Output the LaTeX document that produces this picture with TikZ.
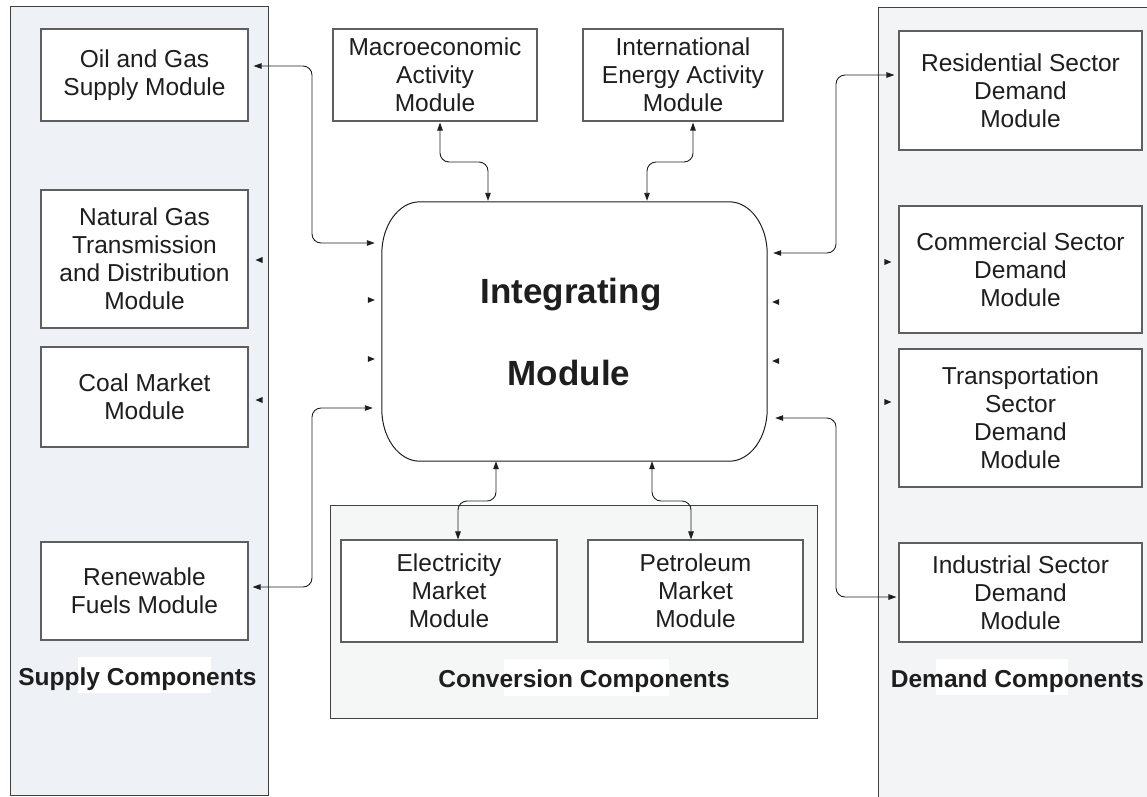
\documentclass[tikz,border=0pt]{standalone}
\usepackage{fontspec}
\setmainfont{Liberation Sans}
\usetikzlibrary{arrows.meta,calc}
\definecolor{panelL}{RGB}{238,242,246}
\definecolor{panelR}{RGB}{243,244,246}
\definecolor{panelC}{RGB}{245,247,247}
\definecolor{edge}{RGB}{95,95,95}
\definecolor{ink}{RGB}{30,30,30}
\begin{document}
\begin{tikzpicture}[x=1pt,y=-1pt,
  panel/.style={draw=ink!85, line width=0.9pt},
  module/.style={draw=edge, line width=1.1pt, fill=white, align=center,
    font=\fontsize{24.5}{28}\selectfont, text=ink, inner sep=0pt},
  grouplabel/.style={font=\bfseries\fontsize{24.5}{28}\selectfont, text=ink, anchor=base},
  biglabel/.style={font=\bfseries\fontsize{35}{40}\selectfont, text=ink, anchor=base},
  link/.style={draw=ink, line width=0.9pt, rounded corners=9pt,
    {Triangle[length=8pt,width=5.5pt]}-{Triangle[length=8pt,width=5.5pt]}},
  tipfill/.style={fill=ink}]

\useasboundingbox (0,0) rectangle (1147,796);

% panels
\path[panel, fill=panelL] (10,6) rectangle (268,795);
\path[panel, fill=panelR] (878,7) rectangle (1165,815);
\path[panel, fill=panelC] (330,505) rectangle (817,718);

% white patches behind group labels
\fill[white] (78,657) rectangle (211,693);
\fill[white] (504,659) rectangle (669,696);
\fill[white] (936,659) rectangle (1068,695);

% supply modules
\node[module, minimum width=207pt, minimum height=92pt] (oil) at (144.5,75) {Oil and Gas\\Supply Module};
\node[module, minimum width=207pt, minimum height=138pt] (natgas) at (144.5,259) {Natural Gas\\Transmission\\and Distribution\\Module};
\node[module, minimum width=207pt, minimum height=100pt] (coal) at (144.5,397) {Coal Market\\Module};
\node[module, minimum width=207pt, minimum height=98pt] (renew) at (144.5,591) {Renewable\\Fuels Module};

% demand modules
\node[module, minimum width=243pt, minimum height=119pt] (resid) at (1020.5,90.5) {Residential Sector\\Demand\\Module};
\node[module, minimum width=243pt, minimum height=127pt] (comm) at (1020.5,269.5) {Commercial Sector\\Demand\\Module};
\node[module, minimum width=243pt, minimum height=138pt] (transp) at (1020.5,418) {Transportation\\Sector\\Demand\\Module};
\node[module, minimum width=243pt, minimum height=99pt] (indust) at (1020.5,592.5) {Industrial Sector\\Demand\\Module};

% top modules
\node[module, minimum width=204pt, minimum height=92pt] (macro) at (435,75) {Macroeconomic\\Activity\\Module};
\node[module, minimum width=200pt, minimum height=92pt] (intl) at (683,75) {International\\Energy Activity\\Module};

% conversion modules
\node[module, minimum width=216pt, minimum height=102pt] (elec) at (449,591) {Electricity\\Market\\Module};
\node[module, minimum width=215pt, minimum height=102pt] (petro) at (695.5,591) {Petroleum\\Market\\Module};

% group labels
\node[grouplabel] (supplylbl) at (137.5,685) {Supply Components};
\node[grouplabel] (convlbl) at (584,687) {Conversion Components};
\node[grouplabel] (demandlbl) at (1017.5,687) {Demand Components};

% integrating module
\node[minimum width=385pt, minimum height=259pt, inner sep=0pt] (integ) at (574.5,331.5) {};
\draw[draw=ink, line width=1pt]
  ([xshift=38pt]integ.north west) -- ([xshift=-38pt]integ.north east)
  arc[start angle=90, end angle=0, x radius=38pt, y radius=52pt]
  -- ([yshift=52pt]integ.south east)
  arc[start angle=0, end angle=-90, x radius=38pt, y radius=52pt]
  -- ([xshift=38pt]integ.south west)
  arc[start angle=270, end angle=180, x radius=38pt, y radius=52pt]
  -- ([yshift=-52pt]integ.north west)
  arc[start angle=180, end angle=90, x radius=38pt, y radius=52pt]
  -- cycle;
\node[biglabel] (integt1) at (571,303) {Integrating};
\node[biglabel] (integt2) at (569,385) {Module};

% connector end points
\coordinate (laneL) at (312,0);
\coordinate (laneR) at (836,0);
\coordinate (laneT) at (0,162);
\coordinate (laneB) at (0,501);

\coordinate (oilE) at ([shift={(5,-9)}]oil.east);
\coordinate (integW1) at ([shift={(-7,-88.5)}]integ.west);
\coordinate (renewE) at ([shift={(4,-4)}]renew.east);
\coordinate (integW2) at ([shift={(-9,76.5)}]integ.west);

\coordinate (residW) at ([shift={(-4,-15.5)}]resid.west);
\coordinate (integE1) at ([shift={(6,-78.5)}]integ.east);
\coordinate (industW) at ([shift={(-2,4.5)}]indust.west);
\coordinate (integE2) at ([shift={(8,86.5)}]integ.east);

\coordinate (macroS) at ([shift={(5,1)}]macro.south);
\coordinate (integN1) at ([shift={(-86.5,-1)}]integ.north);
\coordinate (intlS) at ([shift={(10,1)}]intl.south);
\coordinate (integN2) at ([shift={(72.5,-1)}]integ.north);

\coordinate (integS1) at ([shift={(-78.5,0)}]integ.south);
\coordinate (elecN) at ([shift={(9,0)}]elec.north);
\coordinate (integS2) at ([shift={(77.5,0)}]integ.south);
\coordinate (petroN) at ([shift={(-4.5,0)}]petro.north);

% connectors
\draw[link] (oilE) -- (oilE -| laneL) |- (integW1);
\draw[link] (renewE) -- (renewE -| laneL) |- (integW2);
\draw[link] (integE1) -- (integE1 -| laneR) |- (residW);
\draw[link] (integE2) -- (integE2 -| laneR) |- (industW);
\draw[link] (macroS) -- (macroS |- laneT) -| (integN1);
\draw[link] (intlS) -- (intlS |- laneT) -| (integN2);
\draw[link] (integS1) -- (integS1 |- laneB) -| (elecN);
\draw[link] (integS2) -- (integS2 |- laneB) -| (petroN);

% lone arrow tips
\coordinate (s1) at ([shift={(7,1)}]natgas.east);
\coordinate (s2) at ([shift={(7,3)}]coal.east);
\coordinate (s3) at ([shift={(-7,-31.5)}]integ.west);
\coordinate (s4) at ([shift={(-7,27.5)}]integ.west);
\coordinate (s5) at ([shift={(5,-29.5)}]integ.east);
\coordinate (s6) at ([shift={(5,29.5)}]integ.east);
\coordinate (s7) at ([shift={(-7,-7.5)}]comm.west);
\coordinate (s8) at ([shift={(-7,-16)}]transp.west);
\foreach \p in {s1,s2,s5,s6}
  \fill[tipfill] (\p) -- ++(7,-3) -- ++(0,6) -- cycle;
\foreach \p in {s3,s4,s7,s8}
  \fill[tipfill] (\p) -- ++(-7,-3) -- ++(0,6) -- cycle;

\end{tikzpicture}
\end{document}
